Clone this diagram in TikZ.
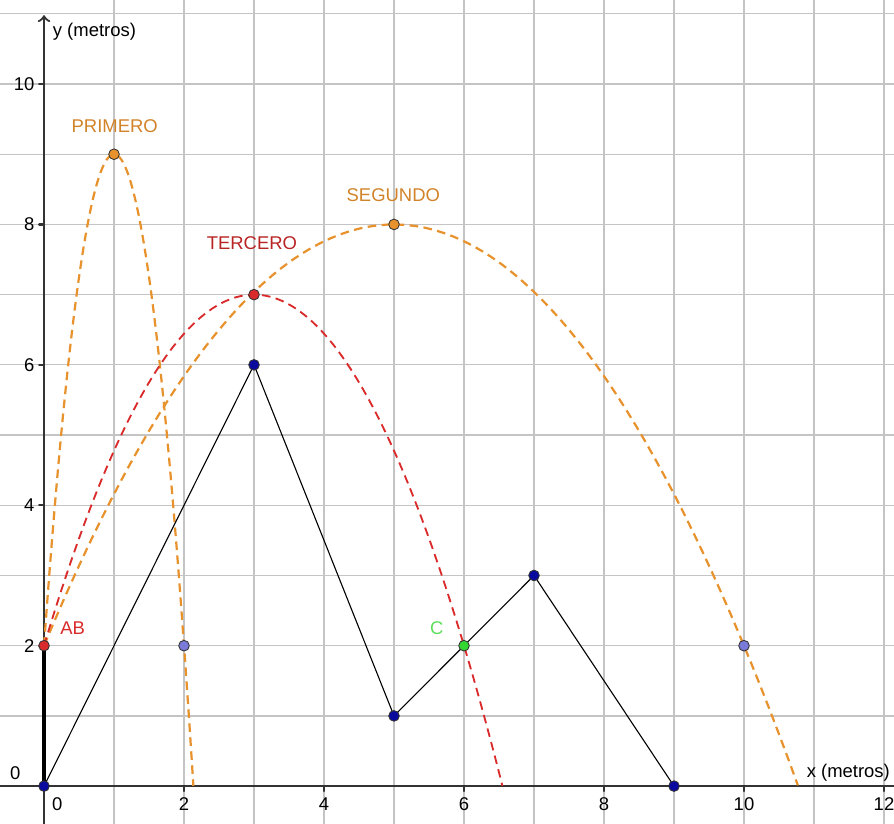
\documentclass[tikz,border=0pt]{standalone}
\usepackage{fontspec}
\setmainfont{Liberation Sans}

\definecolor{naranja}{HTML}{E8922E}
\definecolor{rojo}{HTML}{D92B2B}
\definecolor{verde}{HTML}{33D633}
\definecolor{azul}{HTML}{0A0A9E}
\definecolor{lila}{HTML}{7A7AD8}
\definecolor{rejillagris}{HTML}{C4C4C4}
\definecolor{ejegris}{HTML}{333333}

\begin{document}
\begin{tikzpicture}[x=1cm, y=1.003cm, line cap=round, line join=round,
  font=\fontsize{7.5}{9}\selectfont,
  rejilla/.style={line width=0.5pt, rejillagris},
  eje/.style={line width=0.9pt, ejegris},
  tramo/.style={line width=0.45pt, black},
  curva/.style={line width=0.9pt, line cap=butt, dash pattern=on 3.5pt off 2.2pt, samples=80},
  punto/.style={line width=0.35pt, draw=black!80},
  rotulo/.style={inner sep=0pt}]

  %% ════ rejilla ════
  \foreach \i in {1,...,12} \draw[rejilla] (\i,-0.6) -- (\i,11.3);
  \foreach \j in {1,...,11} \draw[rejilla] (-0.7,\j) -- (12.2,\j);

  %% ════ ejes ════
  \draw[eje] (-0.7,0) -- (12.2,0);
  \draw[eje,->] (0,-0.6) -- (0,10.98);
  \foreach \i in {2,4,...,12} {
    \draw[eje] (\i,0) -- (\i,-0.07);
    \node[rotulo] (tx\i) at (\i,-0.25) {\i};
  }
  \node[rotulo] (tx0) at (0.19,-0.25) {0};
  \foreach \j in {2,4,...,10} {
    \draw[eje] (0,\j) -- (-0.07,\j);
    \node[rotulo,anchor=east] (ty\j) at (-0.13,\j) {\j};
  }
  \node[rotulo] (ty0) at (-0.41,0.18) {0};
  \node[rotulo] (ejex) at (11.49,0.185) {x (metros)};
  \node[rotulo] (ejey) at (0.72,10.74) {y (metros)};

  %% ════ puntos ════
  \coordinate (O)  at (0,0);
  \coordinate (A)  at (0,2);
  \coordinate (P1) at (3,6);
  \coordinate (P2) at (5,1);
  \coordinate (P3) at (7,3);
  \coordinate (P4) at (9,0);
  \coordinate (C)  at (6,2);
  \coordinate (V1) at (1,9);
  \coordinate (V2) at (5,8);
  \coordinate (V3) at (3,7);
  \coordinate (Q1) at (2,2);
  \coordinate (Q2) at (10,2);

  %% ════ parábolas (trayectorias) ════
  \draw[curva, naranja, domain=0:2.134] plot (\x, {9-7*(\x-1)*(\x-1)});
  \draw[curva, naranja, domain=0:10.77] plot (\x, {8-0.24*(\x-5)*(\x-5)});
  \draw[curva, rojo, line width=0.75pt, domain=0:6.55] plot (\x, {7-(5/9)*(\x-3)*(\x-3)});

  %% ════ poligonal y segmento AB ════
  \draw[tramo] (O) -- (P1) -- (P2) -- (P3) -- (P4);
  \draw[line width=1.7pt, black, line cap=butt] (O) -- (A);

  %% ════ marcas ════
  \foreach \p in {O,P1,P2,P3,P4} \filldraw[punto, fill=azul] (\p) circle (0.076);
  \foreach \p in {Q1,Q2} \filldraw[punto, fill=lila] (\p) circle (0.076);
  \foreach \p in {V1,V2} \filldraw[punto, fill=naranja] (\p) circle (0.076);
  \filldraw[punto, fill=rojo] (V3) circle (0.076);
  \filldraw[punto, fill=rojo] (A) circle (0.076);
  \filldraw[punto, fill=verde] (C) circle (0.076);

  %% ════ nombres ════
  \node[rotulo, text=naranja!90!black] (primero) at (1.01,9.40) {PRIMERO};
  \node[rotulo, text=naranja!90!black] (segundo) at (4.99,8.42) {SEGUNDO};
  \node[rotulo, text=rojo!85!black] (tercero) at (2.97,7.73) {TERCERO};
  \node[rotulo, text=rojo] (ab) at (0.41,2.25) {AB};
  \node[rotulo, text=verde!80!white] (c) at (5.61,2.25) {C};

  % lienzo fijo
  \pgfresetboundingbox
  \path[use as bounding box] (-0.629,-0.527) rectangle (12.143,11.197);
\end{tikzpicture}
\end{document}
